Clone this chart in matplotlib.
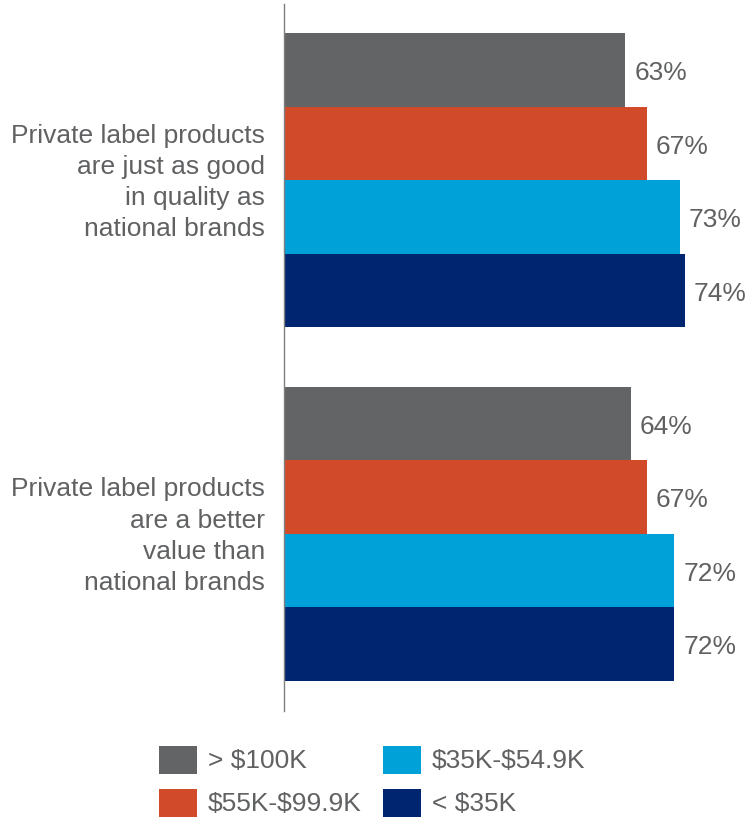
import matplotlib
matplotlib.use("Agg")
import matplotlib.pyplot as plt
from matplotlib.patches import Rectangle

plt.rcParams["font.family"] = ["Liberation Sans", "DejaVu Sans"]
plt.rcParams["text.parse_math"] = False

# Survey statements and shares agreeing, by household income
statements = [
    "Private label products\nare just as good\nin quality as\nnational brands",
    "Private label products\nare a better\nvalue than\nnational brands",
]
income_groups = ["> $100K", "$55K-$99.9K", "$35K-$54.9K", "< $35K"]
quality_pct = [63, 67, 73, 74]
value_pct = [64, 67, 72, 72]
group_values = [quality_pct, value_pct]

colors = ["#636466", "#D14A29", "#00A0D8", "#002570"]
text_color = "#606163"

W, H = 747, 820
fig = plt.figure(figsize=(W / 100, H / 100), dpi=100)

# Axes placed in pixel terms: left spine at x=284, spanning y=5..712
ax_left, ax_top, ax_bottom = 284, 5, 712
ax = fig.add_axes([ax_left / W, 1 - ax_bottom / H, 1 - ax_left / W, (ax_bottom - ax_top) / H])

px_per_unit = 5.42
ax.set_xlim(0, (W - ax_left) / px_per_unit)

bar_h = 1.0
group_step = len(income_groups) + 0.81
for g, vals in enumerate(group_values):
    base = g * group_step
    for i, v in enumerate(vals):
        y = base + i
        ax.barh(y, v, height=bar_h, color=colors[i], edgecolor="none")
        ax.text(v + 1.65, y + 0.03, f"{v}%", va="center", ha="left",
                fontsize=19, color=text_color)
    center = base + (len(vals) - 1) / 2
    ax.text(-3.5, center + 0.02, statements[g], ha="right", va="center",
            fontsize=19, color=text_color, linespacing=1.38,
            multialignment="right")

ax.set_ylim(8.72, -0.895)
for s in ["top", "right", "bottom"]:
    ax.spines[s].set_visible(False)
ax.spines["left"].set_color("#7f7f7f")
ax.spines["left"].set_linewidth(1.0)
ax.set_xticks([])
ax.set_yticks([])
ax.patch.set_alpha(0)

# Legend: two columns, filled top to bottom
sw_w, sw_h = 38, 28
col_x = [159, 383]
row_y = [747, 790]
for i, (label, c) in enumerate(zip(income_groups, colors)):
    col, row = i // 2, i % 2
    x0, y0 = col_x[col], row_y[row]
    fig.add_artist(Rectangle((x0 / W, 1 - (y0 + sw_h) / H), sw_w / W, sw_h / H,
                             transform=fig.transFigure, color=c, lw=0))
    fig.text((x0 + sw_w + 11) / W, 1 - (y0 + sw_h / 2) / H, label,
             ha="left", va="center", fontsize=19, color=text_color)

fig.savefig("out.png", dpi=100, facecolor="white")
